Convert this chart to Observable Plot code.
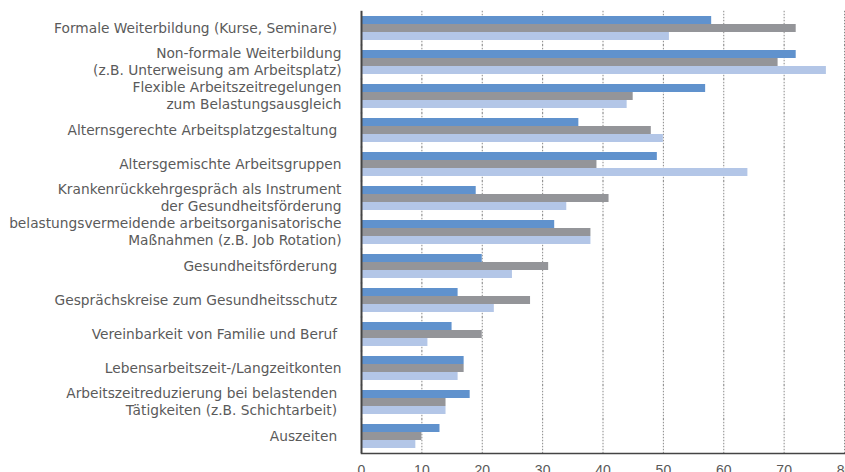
<!DOCTYPE html>
<html><head><meta charset="utf-8">
<script src="https://cdn.jsdelivr.net/npm/d3@7"></script>
<script src="https://cdn.jsdelivr.net/npm/@observablehq/plot@0.6"></script>
<style>body{margin:0;background:#fff} svg text{white-space:pre}</style>
</head><body><div id="chart"></div>
<script>
const categories = [
  "Formale Weiterbildung (Kurse, Seminare) ",
  "Non-formale Weiterbildung\n(z.B. Unterweisung am Arbeitsplatz)",
  "Flexible Arbeitszeitregelungen\nzum Belastungsausgleich",
  "Alternsgerechte Arbeitsplatzgestaltung ",
  "Altersgemischte Arbeitsgruppen",
  "Krankenrückkehrgespräch als Instrument\nder Gesundheitsförderung",
  "belastungsvermeidende arbeitsorganisatorische\nMaßnahmen (z.B. Job Rotation)",
  "Gesundheitsförderung ",
  "Gesprächskreise zum Gesundheitsschutz ",
  "Vereinbarkeit von Familie und Beruf ",
  "Lebensarbeitszeit-/Langzeitkonten",
  "Arbeitszeitreduzierung bei belastenden \nTätigkeiten (z.B. Schichtarbeit) ",
  "Auszeiten "
];
const seriesNames = ["Reihe 1", "Reihe 2", "Reihe 3"];
const series1 = [58, 72, 57, 36, 49, 19, 32, 20, 16, 15, 17, 18, 13];
const series2 = [72, 69, 45, 48, 39, 41, 38, 31, 28, 20, 17, 14, 10];
const series3 = [51, 77, 44, 50, 64, 34, 38, 25, 22, 11, 16, 14, 9];
const xTicks = [0, 10, 20, 30, 40, 50, 60, 70, 80];
const colors = ["#6092cd", "#949599", "#b3c6e7"];

const allSeries = [series1, series2, series3];
const data = categories.flatMap((c, i) =>
  seriesNames.map((s, j) => ({category: c, series: s, value: allSeries[j][i]}))
);

const plot = Plot.plot({
  width: 845,
  height: 472,
  marginLeft: 361,
  marginRight: 1,
  marginTop: 11,
  marginBottom: 19,
  style: {fontFamily: "'Liberation Sans', Arial, sans-serif", fontSize: "14px", color: "#595959", background: "#fff", overflow: "visible"},
  x: {domain: [0, 80], ticks: xTicks, label: null, axis: null},
  y: {domain: seriesNames, padding: 0, axis: null},
  fy: {domain: categories, paddingInner: 0.3, paddingOuter: 0.15, axis: null, label: null},
  color: {domain: seriesNames, range: colors},
  marks: [
    Plot.ruleX(xTicks.filter(d => d > 0), {stroke: "#888", strokeDasharray: "1.5,1.5", strokeOpacity: 1, insetTop: -5.2, insetBottom: -5.2}),
    Plot.barX(data, {fy: "category", y: "series", x: "value", fill: "series"}),
    Plot.ruleX([0], {stroke: "#444", strokeWidth: 2, insetTop: -5.2, insetBottom: -5.2}),
    Plot.axisFy({anchor: "left", tickSize: 0, tickPadding: 20, lineHeight: 1.24, fill: "#5a5a5a", label: null, fontSize: 13.75, fontFamily: "'DejaVu Sans', sans-serif", dy: -1}),
    Plot.axisX(xTicks, {anchor: "bottom", tickSize: 0, tickPadding: 17, fill: "#595959", label: null, fontSize: 14}),
    Plot.frame({anchor: "bottom", stroke: "#444", strokeWidth: 1.5, facetAnchor: "bottom", insetBottom: -5})
  ]
});
document.getElementById("chart").append(plot);
</script>
</body></html>
